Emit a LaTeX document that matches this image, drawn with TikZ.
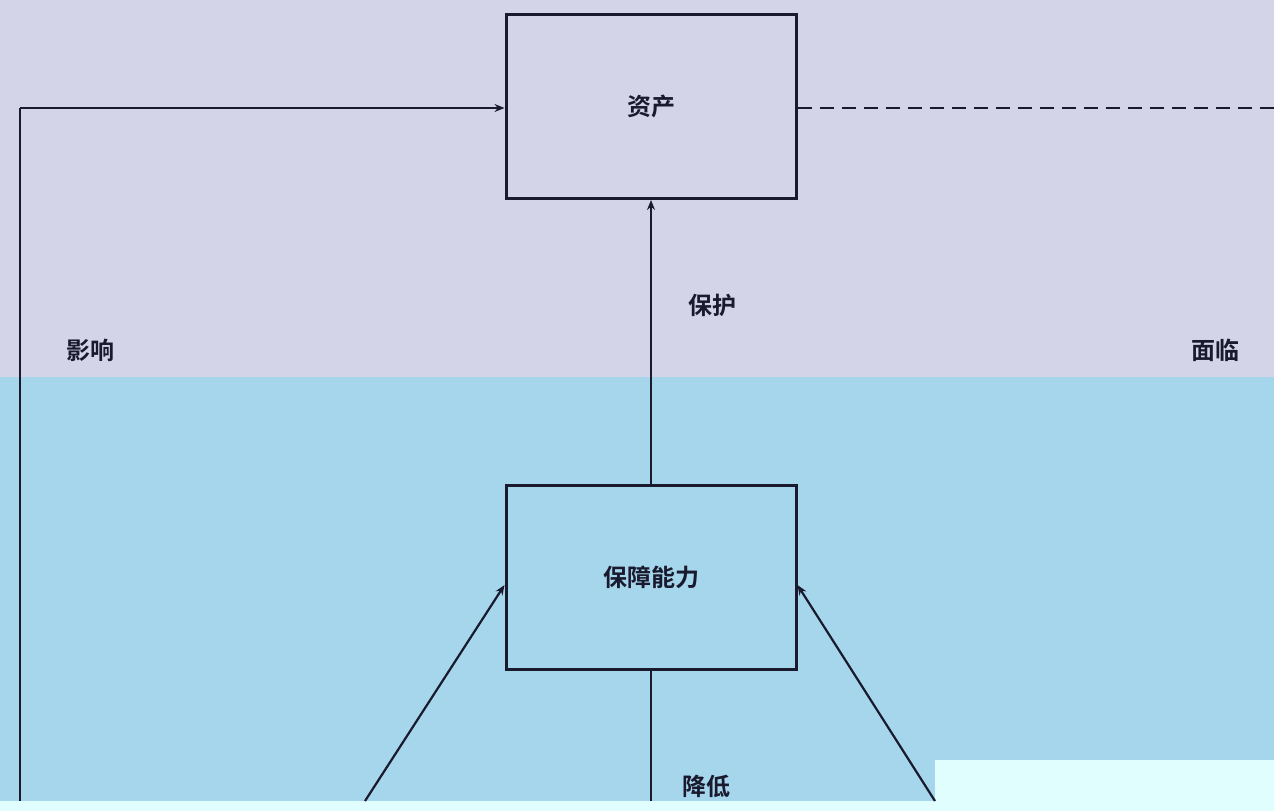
\documentclass[tikz,border=0pt]{standalone}
\usepackage{fontspec}
\newfontfamily\cjk{Noto Sans CJK SC}[BoldFont={* Bold}]
\usetikzlibrary{arrows.meta}
\definecolor{topbg}{HTML}{D4D4E8}
\definecolor{lowbg}{HTML}{A6D6EC}
\definecolor{strip}{HTML}{E0FEFE}
\definecolor{ink}{HTML}{1A1A2E}
\tikzset{
  box/.style={draw=ink, line width=3pt, minimum width=290pt, minimum height=184pt, inner sep=0pt},
  conn/.style={draw=ink, line width=2.2pt},
  arr/.style={conn, -{Stealth[length=10pt,width=8pt]}},
  lbl/.style={text=ink, font=\cjk\bfseries\fontsize{24pt}{28pt}\selectfont, inner sep=0pt}
}
\begin{document}
\begin{tikzpicture}[x=1pt,y=-1pt]
\useasboundingbox (0,0) rectangle (1274,811);
\fill[topbg] (0,0) rectangle (1274,377);
\fill[lowbg] (0,377) rectangle (1274,801);
\fill[strip] (0,801) rectangle (1274,811);
\fill[strip] (935,760) rectangle (1274,811);
\node[box, fill=topbg] (asset) at (651,106.5) {};
\node[lbl] at (asset.center) {资产};
\node[box, fill=lowbg] (cap) at (651,577.5) {};
\node[lbl] at (cap.center) {保障能力};
\coordinate (lt) at (20,801);
\coordinate (lc) at (20,108);
\coordinate (rd) at (1274,108);
\coordinate (bm) at (651,801);
\coordinate (bl) at (365,801);
\coordinate (br) at (935,801);
\draw[conn] (lt) -- (lc);
\draw[arr] (lc) -- (asset.west |- lc);
\draw[conn, dashed, dash pattern=on 14pt off 8pt] (asset.east |- rd) -- (rd);
\draw[arr] (cap.north) -- (asset.south);
\draw[conn] (cap.south) -- (bm);
\draw[arr] (bl) -- (cap.west |- 0,585);
\draw[arr] (br) -- (cap.east |- 0,585);
\node[lbl] (l1) at (90,350) {影响};
\node[lbl] (l2) at (712,305) {保护};
\node[lbl] (l3) at (1215,350) {面临};
\node[lbl] (l4) at (706,786) {降低};
\end{tikzpicture}
\end{document}
